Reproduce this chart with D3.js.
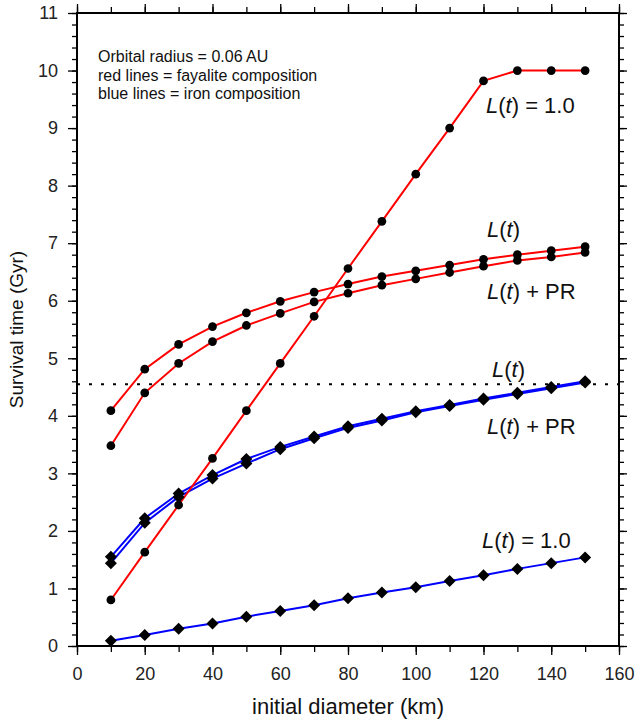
<!DOCTYPE html>
<html>
<head>
<meta charset="utf-8">
<script src="https://cdn.jsdelivr.net/npm/d3@7"></script>
<style>
    body { margin: 0; background: #ffffff; }
    svg { display: block; font-family: "Liberation Sans", Arial, sans-serif; }
</style>
</head>
<body>
<div id="chart"></div>
<script>
// x values (initial diameter, km)
const diameters = [10, 20, 30, 40, 50, 60, 70, 80, 90, 100, 110, 120, 130, 140, 150];

// fayalite composition (red)
const redFlat = [0.80, 1.63, 2.45, 3.26, 4.09, 4.91, 5.73, 6.56, 7.38, 8.20, 9.00, 9.82, 10.0, 10.0, 10.0];
const redLt = [4.09, 4.81, 5.24, 5.55, 5.79, 5.99, 6.15, 6.29, 6.42, 6.52, 6.62, 6.72, 6.80, 6.87, 6.94];
const redLtPR = [3.48, 4.40, 4.91, 5.29, 5.57, 5.78, 5.98, 6.13, 6.27, 6.38, 6.49, 6.60, 6.70, 6.76, 6.84];

// iron composition (blue)
const blueLt = [1.55, 2.22, 2.65, 2.97, 3.25, 3.46, 3.64, 3.82, 3.95, 4.08, 4.19, 4.30, 4.40, 4.50, 4.60];
const blueLtPR = [1.44, 2.14, 2.59, 2.91, 3.17, 3.42, 3.61, 3.79, 3.92, 4.06, 4.17, 4.28, 4.38, 4.48, 4.58];
const blueFlat = [0.09, 0.19, 0.30, 0.39, 0.51, 0.61, 0.71, 0.83, 0.93, 1.02, 1.13, 1.23, 1.34, 1.44, 1.54];

const solarAge = 4.55;

const xTicks = [0, 20, 40, 60, 80, 100, 120, 140, 160];
const yTicks = [0, 1, 2, 3, 4, 5, 6, 7, 8, 9, 10, 11];

const notes = ["Orbital radius = 0.06 AU", "red lines = fayalite composition", "blue lines = iron composition"];

const width = 635, height = 721;
const margin = { top: 13, right: 16, bottom: 75, left: 77 };

const svg = d3.select("#chart").append("svg")
    .attr("width", width)
    .attr("height", height);

const x = d3.scaleLinear().domain([0, 160]).range([margin.left, width - margin.right]);
const y = d3.scaleLinear().domain([0, 11]).range([height - margin.bottom, margin.top]);

// minor ticks
const xMinor = d3.range(0, 161, 10);
const yMinor = d3.range(0, 11.01, 0.2);

function addAxis(axis, transform) {
    const g = svg.append("g").attr("transform", transform).call(axis);
    g.select(".domain").remove();
    g.selectAll("line").attr("stroke", "#000").attr("stroke-width", 1.3);
    return g;
}

// bottom
addAxis(d3.axisBottom(x).tickValues(xMinor).tickSize(6).tickFormat(""), `translate(0,${y(0)})`);
addAxis(d3.axisBottom(x).tickValues(xTicks).tickSize(9).tickPadding(12).tickFormat(d3.format("d")), `translate(0,${y(0)})`)
    .selectAll("text").attr("font-size", 18).attr("fill", "#222");
// top
addAxis(d3.axisTop(x).tickValues(xMinor).tickSize(6).tickFormat(""), `translate(0,${y(11)})`);
addAxis(d3.axisTop(x).tickValues(xTicks).tickSize(9).tickFormat(""), `translate(0,${y(11)})`);
// left
addAxis(d3.axisLeft(y).tickValues(yMinor).tickSize(5).tickFormat(""), `translate(${x(0)},0)`);
addAxis(d3.axisLeft(y).tickValues(yTicks).tickSize(9).tickPadding(10).tickFormat(d3.format("d")), `translate(${x(0)},0)`)
    .selectAll("text").attr("font-size", 18).attr("fill", "#222");
// right
addAxis(d3.axisRight(y).tickValues(yMinor).tickSize(5).tickFormat(""), `translate(${x(160)},0)`);
addAxis(d3.axisRight(y).tickValues(yTicks).tickSize(8).tickFormat(""), `translate(${x(160)},0)`);

// frame
svg.append("rect")
    .attr("x", x(0))
    .attr("y", y(11))
    .attr("width", x(160) - x(0))
    .attr("height", y(0) - y(11))
    .attr("fill", "none")
    .attr("stroke", "#000")
    .attr("stroke-width", 2);

// dotted reference line
svg.append("line")
    .attr("x1", x(0)).attr("x2", x(160))
    .attr("y1", y(solarAge)).attr("y2", y(solarAge))
    .attr("stroke", "#000")
    .attr("stroke-width", 2)
    .attr("stroke-dasharray", "3,9");

const line = d3.line()
    .x((d, i) => x(diameters[i]))
    .y(d => y(d));

const series = [
    { values: blueFlat, color: "#0000ff", marker: "diamond" },
    { values: blueLtPR, color: "#0000ff", marker: "diamond" },
    { values: blueLt, color: "#0000ff", marker: "diamond" },
    { values: redFlat, color: "#ff0000", marker: "circle" },
    { values: redLtPR, color: "#ff0000", marker: "circle" },
    { values: redLt, color: "#ff0000", marker: "circle" }
];

series.forEach(s => {
    svg.append("path")
        .datum(s.values)
        .attr("d", line)
        .attr("fill", "none")
        .attr("stroke", s.color)
        .attr("stroke-width", 2);
});

// square diamond (d3's symbolDiamond is too tall)
const diamondPath = "M0,-6L6,0L0,6L-6,0Z";
const circlePath = d3.symbol().type(d3.symbolCircle).size(60)();

series.forEach(s => {
    svg.append("g")
        .selectAll("path")
        .data(s.values)
        .enter()
        .append("path")
        .attr("d", s.marker === "circle" ? circlePath : diamondPath)
        .attr("transform", (d, i) => `translate(${x(diameters[i])},${y(d)})`)
        .attr("fill", "#000");
});

// curve labels: L(t) with italics
const curveLabels = [
    { tx: 486, ty: 113, tail: " = 1.0" },
    { tx: 487, ty: 237, tail: "" },
    { tx: 487, ty: 299, tail: " + PR" },
    { tx: 492, ty: 377, tail: "" },
    { tx: 487, ty: 434, tail: " + PR" },
    { tx: 482, ty: 548, tail: " = 1.0" }
];

curveLabels.forEach(l => {
    const t = svg.append("text")
        .attr("x", l.tx)
        .attr("y", l.ty)
        .attr("font-size", 22)
        .attr("fill", "#111");
    t.append("tspan").attr("font-style", "italic").text("L");
    t.append("tspan").text("(");
    t.append("tspan").attr("font-style", "italic").text("t");
    t.append("tspan").text(")" + l.tail);
});

// notes in upper left
svg.append("g")
    .selectAll("text")
    .data(notes)
    .enter()
    .append("text")
    .attr("x", 98)
    .attr("y", (d, i) => 62 + i * 18.5)
    .attr("font-size", 16)
    .attr("fill", "#111")
    .text(d => d);

// axis titles
svg.append("text")
    .attr("x", (x(0) + x(160)) / 2)
    .attr("y", 714)
    .attr("text-anchor", "middle")
    .attr("font-size", 22)
    .attr("fill", "#111")
    .text("initial diameter (km)");

svg.append("text")
    .attr("transform", `translate(23,${y(5.5)}) rotate(-90)`)
    .attr("text-anchor", "middle")
    .attr("font-size", 19)
    .attr("fill", "#111")
    .text("Survival time (Gyr)");
</script>
</body>
</html>
